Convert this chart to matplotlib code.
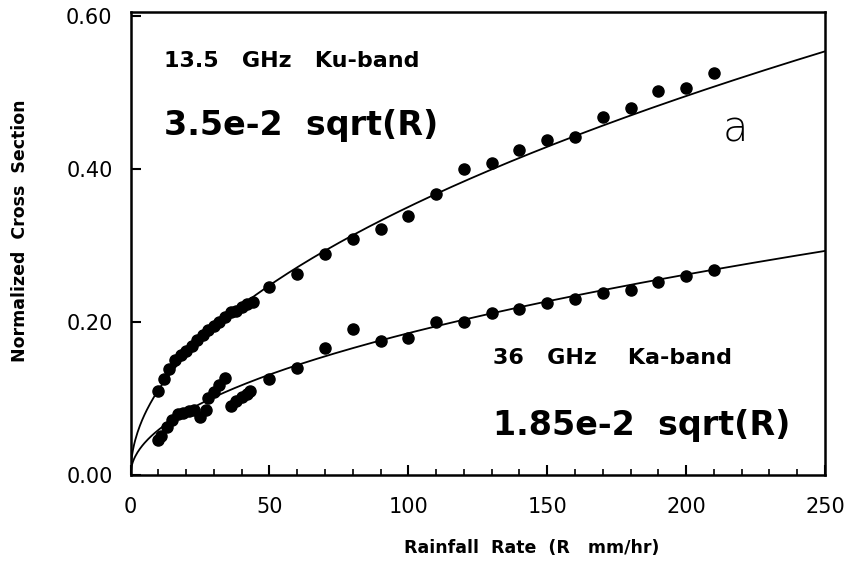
import matplotlib
matplotlib.use('Agg')
import matplotlib.pyplot as plt
import numpy as np
from matplotlib.ticker import MultipleLocator

# Data
ku_rate = [10, 12, 14, 16, 18, 20, 22, 24, 26, 28, 30, 32, 34, 36, 38, 40, 42, 44,
           50, 60, 70, 80, 90, 100, 110, 120, 130, 140, 150, 160, 170, 180, 190, 200, 210]
ku_sigma = [0.110, 0.125, 0.138, 0.150, 0.157, 0.162, 0.168, 0.176, 0.183, 0.189, 0.195,
            0.200, 0.206, 0.213, 0.214, 0.219, 0.223, 0.226,
            0.245, 0.263, 0.288, 0.308, 0.321, 0.338, 0.367, 0.399, 0.407, 0.425,
            0.438, 0.442, 0.467, 0.479, 0.502, 0.506, 0.525]

ka_rate = [10, 11, 13, 15, 17, 19, 21, 23, 25, 27, 28, 30, 32, 34, 36, 38, 40, 42, 43,
           50, 60, 70, 80, 90, 100, 110, 120, 130, 140, 150, 160, 170, 180, 190, 200, 210]
ka_sigma = [0.045, 0.051, 0.062, 0.072, 0.079, 0.081, 0.083, 0.084, 0.076, 0.085, 0.100,
            0.108, 0.117, 0.127, 0.090, 0.096, 0.101, 0.106, 0.110,
            0.125, 0.139, 0.165, 0.190, 0.175, 0.179, 0.199, 0.199, 0.212, 0.216,
            0.224, 0.230, 0.237, 0.242, 0.252, 0.260, 0.267]

ku_coef = 3.5e-2
ka_coef = 1.85e-2

fig = plt.figure(figsize=(8.49, 5.75), dpi=100)
ax = fig.add_axes([0.1538, 0.1744, 0.818, 0.805])

# fitted sqrt curves
r = np.linspace(0, 250, 600)
ax.plot(r, ku_coef * np.sqrt(r), color='black', lw=1.3)
ax.plot(r, ka_coef * np.sqrt(r), color='black', lw=1.3)

# measurements
ax.plot(ku_rate, ku_sigma, 'o', color='black', ms=8, mec='black')
ax.plot(ka_rate, ka_sigma, 'o', color='black', ms=8, mec='black')

ax.set_xlim(0, 250)
ax.set_ylim(0, 0.605)
ax.set_xticks([0, 50, 100, 150, 200, 250])
ax.xaxis.set_minor_locator(MultipleLocator(10))
ax.set_yticks([0.0, 0.2, 0.4, 0.6])
ax.set_yticklabels(['0.00', '0.20', '0.40', '0.60'])

ax.tick_params(axis='both', which='major', direction='in', length=7, width=1.5,
               labelsize=15, top=False, right=False)
ax.tick_params(axis='x', which='minor', direction='in', length=4, width=1.2, top=False)
ax.tick_params(axis='x', which='major', pad=16)
ax.tick_params(axis='y', which='major', pad=13)

for spine in ax.spines.values():
    spine.set_linewidth(1.8)

ax.set_xlabel('Rainfall  Rate  (R   mm/hr)', fontsize=12.5, fontweight='bold')
ax.set_ylabel('Normalized  Cross  Section', fontsize=12.5, fontweight='bold')
ax.xaxis.set_label_coords(0.578, -0.158)
ax.xaxis.label.set_va('center')
ax.yaxis.set_label_coords(-0.159, 0.528)
ax.yaxis.label.set_va('center')

# annotations
ax.text(12, 0.541, '13.5   GHz   Ku-band', fontsize=16, fontweight='bold', va='center')
ax.text(12, 0.456, '3.5e-2  sqrt(R)', fontsize=24, fontweight='bold', va='center')
ax.text(213, 0.452, 'a', fontsize=30, va='center', fontweight='light')
ax.text(130.5, 0.152, '36   GHz    Ka-band', fontsize=16, fontweight='bold', va='center')
ax.text(130.5, 0.064, '1.85e-2  sqrt(R)', fontsize=24, fontweight='bold', va='center')

fig.savefig('out.png', dpi=100)
